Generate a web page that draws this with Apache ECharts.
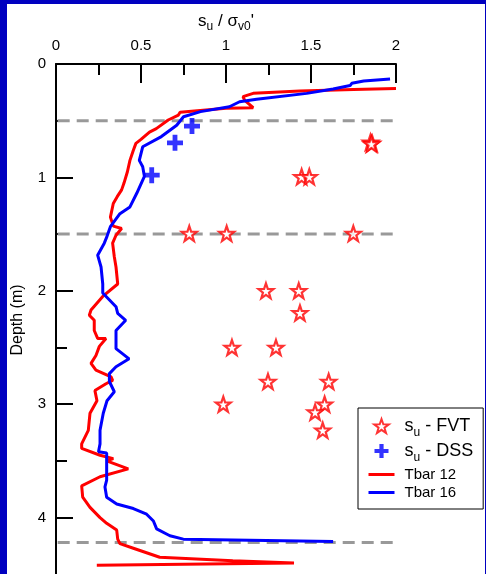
<!DOCTYPE html>
<html>
<head>
<meta charset="utf-8">
<script src="https://cdn.jsdelivr.net/npm/echarts@6/dist/echarts.min.js"></script>
<style>
  html, body { margin: 0; padding: 0; width: 486px; height: 574px; overflow: hidden; background: #0000c0; }
  #chart { position: absolute; left: 7px; top: 4px; width: 478px; height: 640px; background: #fff; }
</style>
</head>
<body>
<div id="chart"></div>
<script>
// [su/sv0', depth (m)]
const tbar12 = [
  [2.0, 0.215], [1.75, 0.225], [1.435, 0.238], [1.16, 0.259], [1.10, 0.288], [1.11, 0.32],
  [1.16, 0.385], [1.0, 0.39], [0.73, 0.426], [0.72, 0.45], [0.66, 0.494], [0.59, 0.57],
  [0.55, 0.6], [0.50, 0.665], [0.47, 0.7], [0.455, 0.76], [0.435, 0.85], [0.42, 0.95],
  [0.40, 1.05], [0.386, 1.11], [0.36, 1.17], [0.337, 1.23], [0.32, 1.35], [0.337, 1.43],
  [0.386, 1.45], [0.353, 1.51], [0.333, 1.58], [0.343, 1.70], [0.353, 1.79], [0.363, 1.94],
  [0.275, 2.05], [0.206, 2.17], [0.196, 2.215], [0.225, 2.26], [0.225, 2.35], [0.245, 2.42],
  [0.294, 2.42], [0.255, 2.49], [0.235, 2.57], [0.206, 2.64], [0.235, 2.70], [0.324, 2.76],
  [0.333, 2.79], [0.294, 2.82], [0.229, 2.88], [0.241, 2.97], [0.2, 3.08], [0.19, 3.23],
  [0.151, 3.35], [0.151, 3.39], [0.259, 3.45], [0.337, 3.48], [0.298, 3.5], [0.425, 3.57],
  [0.259, 3.64], [0.151, 3.72], [0.157, 3.82], [0.2, 3.91], [0.259, 4.0], [0.298, 4.05],
  [0.357, 4.11], [0.363, 4.19], [0.376, 4.23], [0.455, 4.27], [0.61, 4.35], [1.04, 4.38],
  [1.40, 4.40], [0.24, 4.42]
]
const tbar16 = [
  [1.965, 0.133], [1.81, 0.15], [1.74, 0.17], [1.73, 0.19], [1.63, 0.22], [1.475, 0.259],
  [1.18, 0.31], [1.08, 0.333], [1.02, 0.377], [0.85, 0.42], [0.75, 0.465], [0.71, 0.54],
  [0.62, 0.64], [0.51, 0.73], [0.49, 0.85], [0.51, 0.906], [0.52, 0.99], [0.475, 1.14],
  [0.435, 1.26], [0.376, 1.32], [0.32, 1.435], [0.30, 1.52], [0.284, 1.58], [0.245, 1.686],
  [0.265, 1.79], [0.275, 1.94], [0.275, 2.02], [0.353, 2.14], [0.363, 2.20], [0.41, 2.26],
  [0.353, 2.35], [0.353, 2.51], [0.43, 2.60], [0.353, 2.67], [0.314, 2.73], [0.314, 2.80],
  [0.343, 2.89], [0.30, 2.97], [0.278, 3.08], [0.259, 3.23], [0.259, 3.35], [0.25, 3.42],
  [0.298, 3.43], [0.298, 3.55], [0.298, 3.67], [0.288, 3.73], [0.298, 3.82], [0.357, 3.88],
  [0.455, 3.92], [0.533, 3.97], [0.573, 4.03], [0.592, 4.10], [0.67, 4.16], [0.749, 4.19],
  [1.63, 4.21]
]
const fvt = [
  [1.85, 0.69], [1.86, 0.70], [1.855, 0.705], [1.445, 0.995], [1.49, 0.995],
  [0.784, 1.495], [1.004, 1.495], [1.749, 1.495], [1.235, 2.0], [1.428, 2.0],
  [1.435, 2.195], [1.035, 2.5], [1.294, 2.5], [1.247, 2.8], [1.604, 2.8],
  [0.984, 3.0], [1.58, 3.0], [1.524, 3.07], [1.569, 3.23]
]
const dss = [[0.80, 0.547], [0.70, 0.695], [0.563, 0.98]]
const interfaces = [0.5, 1.5, 4.22]
const interfaceSpan = [0.01, 2.03]

const FONT = '"Liberation Sans", Arial, sans-serif'
const STAR = 'path://M50,0L61.76,33.82L97.55,34.55L69.02,56.18L79.39,90.45L50,70L20.61,90.45L30.98,56.18L2.45,34.55L38.24,33.82Z'
const PLUS = 'path://M3.5,0H6.5V3.5H10V6.5H6.5V10H3.5V6.5H0V3.5H3.5Z'

const chart = echarts.init(document.getElementById('chart'))

const dashed = interfaces.map((d) => ({
  type: 'line',
  data: interfaceSpan.map((x) => [x, d]),
  symbol: 'none',
  clip: false,
  silent: true,
  z: 1,
  lineStyle: { color: '#999999', width: 3, type: [12, 7] },
}))

const legendText = {
  'su - FVT': '{s|s}{sub|u}{t| - FVT}',
  'su - DSS': '{s|s}{sub|u}{t| - DSS}',
  'Tbar 12': '{b|Tbar 12}',
  'Tbar 16': '{b|Tbar 16}',
}

chart.setOption({
  animation: false,
  textStyle: { fontFamily: FONT },
  grid: { left: 49, top: 60, right: 89, height: 567 },
  xAxis: {
    type: 'value', position: 'top', min: 0, max: 2, interval: 0.5,
    axisLine: { lineStyle: { color: '#000', width: 2 } },
    axisTick: { inside: true, length: 19, lineStyle: { color: '#000', width: 2 } },
    minorTick: { show: true, splitNumber: 2, length: 11, lineStyle: { color: '#000', width: 2 } },
    splitLine: { show: false },
    axisLabel: { color: '#000', fontSize: 15, margin: 11, fontFamily: FONT },
    name: '{m|s}{sub|u}{m| / σ}{sub|v0}{m|\'}',
    nameLocation: 'middle',
    nameGap: 30,
    nameTextStyle: {
      color: '#000', fontFamily: FONT,
      rich: {
        m: { fontSize: 17, lineHeight: 24, color: '#000', fontFamily: FONT },
        sub: { fontSize: 12, lineHeight: 14, verticalAlign: 'bottom', color: '#000', fontFamily: FONT },
      },
    },
  },
  yAxis: {
    type: 'value', inverse: true, min: 0, max: 5, interval: 1,
    axisLine: { lineStyle: { color: '#000', width: 2 } },
    axisTick: { inside: true, length: 17, lineStyle: { color: '#000', width: 2 } },
    minorTick: { show: true, splitNumber: 2, length: 11, lineStyle: { color: '#000', width: 2 } },
    splitLine: { show: false },
    axisLabel: { color: '#000', fontSize: 15, margin: 10, fontFamily: FONT },
  },
  legend: {
    orient: 'vertical',
    left: 351, top: 404,
    padding: [9, 10, 9, 9],
    itemGap: 3,
    itemWidth: 26, itemHeight: 14,
    borderColor: '#000', borderWidth: 1,
    data: [
      'su - FVT',
      'su - DSS',
      { name: 'Tbar 12', itemStyle: { opacity: 0 }, lineStyle: { width: 3 } },
      { name: 'Tbar 16', itemStyle: { opacity: 0 }, lineStyle: { width: 3 } },
    ],
    formatter: (name) => legendText[name],
    textStyle: {
      color: '#000', fontFamily: FONT,
      rich: {
        s: { fontSize: 18, lineHeight: 26, padding: [0, 0, 0, 5], fontFamily: FONT },
        sub: { fontSize: 12, lineHeight: 14, verticalAlign: 'bottom', fontFamily: FONT },
        t: { fontSize: 18, lineHeight: 26, fontFamily: FONT },
        b: { fontSize: 15, lineHeight: 20, padding: [0, 0, 0, 5], fontFamily: FONT },
      },
    },
  },
  graphic: [{
    type: 'text',
    x: 11, y: 316,
    rotation: Math.PI / 2,
    style: {
      text: 'Depth (m)', fill: '#000', font: '16px ' + FONT,
      align: 'center', verticalAlign: 'middle',
      textAlign: 'center', textVerticalAlign: 'middle',
    },
  }],
  series: [
    ...dashed,
    {
      name: 'Tbar 12', type: 'line', data: tbar12, symbol: 'none', z: 3,
      color: '#ff0000', lineStyle: { color: '#ff0000', width: 3 },
    },
    {
      name: 'Tbar 16', type: 'line', data: tbar16, symbol: 'none', z: 4,
      color: '#0000ff', lineStyle: { color: '#0000ff', width: 3 },
    },
    {
      name: 'su - FVT', type: 'scatter', data: fvt, symbol: STAR, symbolSize: 15, z: 5,
      itemStyle: { color: '#ffffff', borderColor: '#ff0000', borderWidth: 2.2 },
    },
    {
      name: 'su - DSS', type: 'scatter', data: dss, symbol: PLUS, symbolSize: 16, z: 5,
      itemStyle: { color: '#0000ff' },
    },
  ],
})
</script>
</body>
</html>
